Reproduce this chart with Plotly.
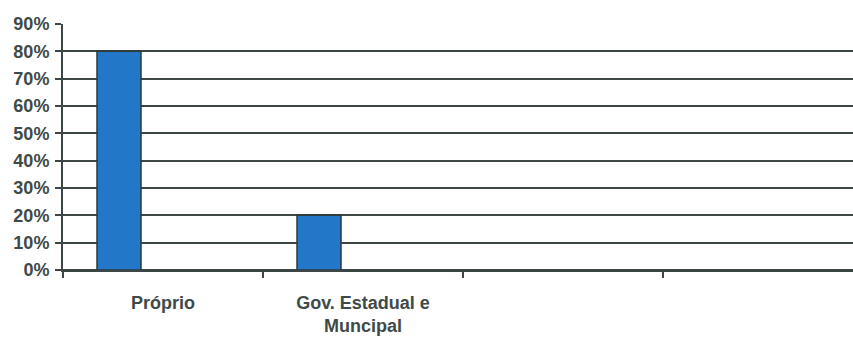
import plotly.graph_objects as go

categories = ["Próprio", "Gov. Estadual e<br>Muncipal", " ", "  "]
values = [0.80, 0.20, None, None]
y_ticks = [0, 0.1, 0.2, 0.3, 0.4, 0.5, 0.6, 0.7, 0.8, 0.9]

dark = "#3c4644"
text_col = "#3e4a48"

fig = go.Figure()
fig.add_trace(go.Bar(
    x=categories, y=values,
    width=0.22, offset=-0.33,
    marker=dict(color="#2277c9", line=dict(color="#2d3a3a", width=1.5)),
    showlegend=False,
))

fig.update_layout(
    width=853, height=344,
    margin=dict(l=63, r=0, t=24, b=74),
    plot_bgcolor="white", paper_bgcolor="white",
    font=dict(family="Liberation Sans, Arial, sans-serif", color=text_col),
)
fig.update_xaxes(
    type="category",
    range=[-0.5, 3.45],
    tickson="boundaries",
    ticks="outside", ticklen=6, tickwidth=2, tickcolor=dark,
    showgrid=False, zeroline=False,
    showline=True, linecolor=dark, linewidth=2,
    tickfont=dict(size=18, weight="bold", color=text_col),
    ticklabelstandoff=15,
)
fig.update_yaxes(
    range=[0, 0.9],
    tickvals=y_ticks,
    tickformat=".0%",
    ticks="outside", ticklen=6, tickwidth=2, tickcolor=dark,
    showgrid=True, gridcolor=dark, gridwidth=2,
    zeroline=True, zerolinecolor=dark, zerolinewidth=2,
    showline=True, linecolor=dark, linewidth=2,
    tickfont=dict(size=18, weight="bold", color=text_col),
    ticklabelstandoff=2,
)

fig.write_html("out.html")
